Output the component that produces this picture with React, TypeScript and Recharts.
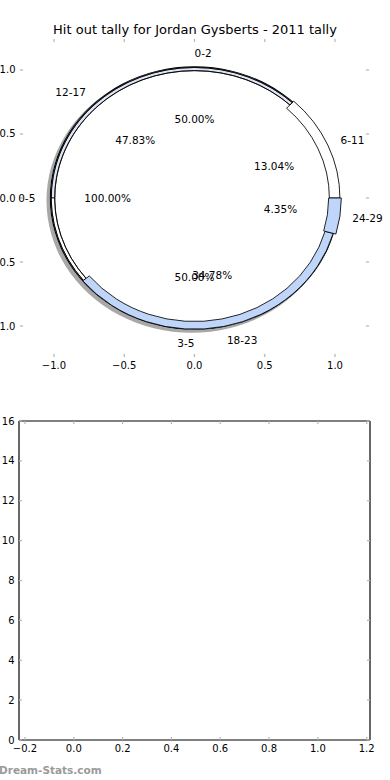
import { PieChart, Pie, Cell, ScatterChart, Scatter, XAxis, YAxis } from "recharts"

const chartTitle = "Hit out tally for Jordan Gysberts - 2011 tally"
const watermark = "Dream-Stats.com"

// three nested pies
const totalNames = ["0-5"]
const totalValues = [1]
const halfNames = ["0-2", "3-5"]
const halfValues = [1, 1]
const ageNames = ["6-11", "12-17", "18-23", "24-29"]
const ageValues = [3, 11, 8, 1]

// axes
const pieTicks = [-1, -0.5, 0, 0.5, 1]
const pieDomain = [-1.242, 1.242]
const barXTicks = [-0.2, 0, 0.2, 0.4, 0.6, 0.8, 1, 1.2]
const barYTicks = [0, 2, 4, 6, 8, 10, 12, 14, 16]
const barXDomain = [-0.2246, 1.2136]
const barYDomain = [0, 16]
const emptyPoints: { x: number; y: number }[] = []

const FONT = "'DejaVu Sans', sans-serif"
const PX = 140.5 // px per unit
const SY = 128 / 140.5 // vertical squash of the pie
const CX = 194.5
const CY = 198
const R = 1.03

const toRows = (names: string[], values: number[]) =>
  names.map((name, i) => ({ name, value: values[i] }))

const ageRing = [
  { inner: 0.96, outer: 1.035, fill: "#ffffff" },
  { inner: 0.995, outer: 1.02, fill: "none" },
  { inner: 0.965, outer: 1.025, fill: "#bfd5fa" },
  { inner: 0.955, outer: 1.045, fill: "#bfd5fa" },
]
const halfFills = ["#dde4f4", "#ffffff"]

const fmtTick = (v: number) => (v < 0 ? "\u2212" : "") + Math.abs(v).toFixed(1)

function makeLabel(names: string[]) {
  return (props: any) => {
    const { midAngle, percent, index } = props
    const a = (midAngle * Math.PI) / 180
    const c = Math.cos(a)
    const s = Math.sin(a)
    const nx = CX + 1.1 * R * PX * c
    const ny = CY - 1.1 * R * PX * s
    const px = CX + 0.6 * R * PX * c
    const py = CY - 0.6 * R * PX * s
    const style = { fontFamily: FONT, fontSize: 10.5, fill: "#000", stroke: "none" }
    return (
      <g>
        <text
          transform={`translate(${nx} ${ny}) scale(1 ${1 / SY})`}
          textAnchor={c > 0 ? "start" : "end"}
          dominantBaseline="central"
          style={style}
        >
          {names[index] ?? props.name}
        </text>
        <text
          transform={`translate(${px} ${py}) scale(1 ${1 / SY})`}
          textAnchor="middle"
          dominantBaseline="central"
          style={style}
        >
          {(percent * 100).toFixed(2)}%
        </text>
      </g>
    )
  }
}

type Side = "bottom" | "top" | "left" | "right"

function tickFor(side: Side, showLabel: boolean, fmt: (v: number) => string) {
  return (props: any) => {
    const { x, y, payload } = props
    const len = 3
    let l = [x, y, x, y - len]
    if (side === "top") l = [x, y, x, y + len]
    if (side === "left") l = [x, y, x + len, y]
    if (side === "right") l = [x, y, x - len, y]
    const style = { fontFamily: FONT, fontSize: 10, fill: "#000" }
    return (
      <g>
        <line x1={l[0]} y1={l[1]} x2={l[2]} y2={l[3]} stroke="#b4b4b4" strokeWidth={1.2} />
        {showLabel && side === "bottom" && (
          <text x={x} y={y + 8.5} textAnchor="middle" dominantBaseline="central" style={style}>
            {fmt(payload.value)}
          </text>
        )}
        {showLabel && side === "left" && (
          <text x={x - 4.5} y={y} textAnchor="end" dominantBaseline="central" style={style}>
            {fmt(payload.value)}
          </text>
        )}
      </g>
    )
  }
}

const axisCommon = {
  type: "number" as const,
  allowDataOverflow: true,
  tickSize: 0,
  tickMargin: 0,
  tickLine: false,
  interval: 0 as const,
}

// axis boxes need a size > 0 or recharts skips them, so they are 1px and the margins are 1px less
function PieAxes() {
  return (
    <ScatterChart width={390} height={400} margin={{ top: 38, right: 20, bottom: 42, left: 19 }}>
      <XAxis xAxisId="b" dataKey="x" {...axisCommon} domain={pieDomain} ticks={pieTicks} height={1} axisLine={false} tick={tickFor("bottom", true, fmtTick)} />
      <XAxis xAxisId="t" dataKey="x" orientation="top" {...axisCommon} domain={pieDomain} ticks={pieTicks} height={1} axisLine={false} tick={tickFor("top", false, fmtTick)} />
      <YAxis yAxisId="l" dataKey="y" {...axisCommon} domain={pieDomain} ticks={pieTicks} width={1} axisLine={false} tick={tickFor("left", true, fmtTick)} />
      <YAxis yAxisId="r" dataKey="y" orientation="right" {...axisCommon} domain={pieDomain} ticks={pieTicks} width={1} axisLine={false} tick={tickFor("right", false, fmtTick)} />
      <Scatter data={emptyPoints} xAxisId="b" yAxisId="l" isAnimationActive={false} />
      <Scatter data={emptyPoints} xAxisId="t" yAxisId="r" isAnimationActive={false} />
    </ScatterChart>
  )
}

function NestedPie() {
  const totalRows = toRows(totalNames, totalValues)
  const halfRows = toRows(halfNames, halfValues)
  const ageRows = toRows(ageNames, ageValues)
  return (
    <PieChart width={390} height={400} margin={{ top: 0, right: 0, bottom: 0, left: 0 }}>
      {/* shadow */}
      <Pie data={totalRows} dataKey="value" nameKey="name" cx={CX - 2.8} cy={CY + 2.8} outerRadius={R * PX + 0.5} fill="#a8a8a8" stroke="none" isAnimationActive={false} />
      {/* 0-5 disc */}
      <Pie data={totalRows} dataKey="value" nameKey="name" cx={CX} cy={CY} outerRadius={R * PX} fill="#ffffff" stroke="none" label={makeLabel(totalNames)} labelLine={false} isAnimationActive={false} />
      <Pie data={totalRows} dataKey="value" nameKey="name" cx={CX} cy={CY} innerRadius={R * PX - 1.1} outerRadius={R * PX} fill="#000000" stroke="none" isAnimationActive={false} />
      {/* 0-2 / 3-5 */}
      <Pie data={halfRows} dataKey="value" nameKey="name" cx={CX} cy={CY} innerRadius={0.995 * PX} outerRadius={1.02 * PX} stroke="#000" strokeWidth={0.8} label={makeLabel(halfNames)} labelLine={false} isAnimationActive={false}>
        {halfRows.map((r, i) => (
          <Cell key={r.name} fill={halfFills[i]} />
        ))}
      </Pie>
      {/* age groups, one ring per wedge */}
      {ageRing.map((ring, k) => (
        <Pie
          key={ageNames[k]}
          data={ageRows}
          dataKey="value"
          nameKey="name"
          cx={CX}
          cy={CY}
          innerRadius={ring.inner * PX}
          outerRadius={ring.outer * PX}
          strokeWidth={0.9}
          label={k === 0 ? makeLabel(ageNames) : false}
          labelLine={false}
          isAnimationActive={false}
        >
          {ageRows.map((r, i) => (
            <Cell key={r.name} fill={i === k ? ring.fill : "none"} stroke={i === k ? "#000" : "none"} />
          ))}
        </Pie>
      ))}
    </PieChart>
  )
}

function EmptyAxes() {
  const fmtY = (v: number) => String(v)
  const frame = { stroke: "#000", strokeWidth: 1.2 }
  return (
    <ScatterChart width={390} height={380} margin={{ top: 20, right: 19, bottom: 39, left: 18 }}>
      <XAxis xAxisId="b" dataKey="x" {...axisCommon} domain={barXDomain} ticks={barXTicks} height={1} axisLine={frame} tick={tickFor("bottom", true, fmtTick)} />
      <XAxis xAxisId="t" dataKey="x" orientation="top" {...axisCommon} domain={barXDomain} ticks={barXTicks} height={1} axisLine={frame} tick={tickFor("top", false, fmtTick)} />
      <YAxis yAxisId="l" dataKey="y" {...axisCommon} domain={barYDomain} ticks={barYTicks} width={1} axisLine={frame} tick={tickFor("left", true, fmtY)} />
      <YAxis yAxisId="r" dataKey="y" orientation="right" {...axisCommon} domain={barYDomain} ticks={barYTicks} width={1} axisLine={frame} tick={tickFor("right", false, fmtY)} />
      <Scatter data={emptyPoints} xAxisId="b" yAxisId="l" isAnimationActive={false} />
      <Scatter data={emptyPoints} xAxisId="t" yAxisId="r" isAnimationActive={false} />
    </ScatterChart>
  )
}

export default function App() {
  return (
    <div style={{ position: "absolute", left: 0, top: 0, width: 390, height: 780, background: "#fff", overflow: "hidden", fontFamily: FONT }}>
      <div style={{ position: "absolute", left: 0, top: 22, width: 390, textAlign: "center", fontSize: 13, lineHeight: "15px", color: "#000" }}>
        {chartTitle}
      </div>
      <div style={{ position: "absolute", left: 0, top: 0 }}>
        <PieAxes />
      </div>
      <div style={{ position: "absolute", left: 0, top: 0, transform: `scaleY(${SY})`, transformOrigin: `${CX}px ${CY}px` }}>
        <NestedPie />
      </div>
      <div style={{ position: "absolute", left: 0, top: 400 }}>
        <EmptyAxes />
      </div>
      <div style={{ position: "absolute", left: -1, top: 762, fontSize: 10.5, fontWeight: "bold", color: "#9a9a9a", lineHeight: "16px" }}>
        {watermark}
      </div>
    </div>
  )
}
